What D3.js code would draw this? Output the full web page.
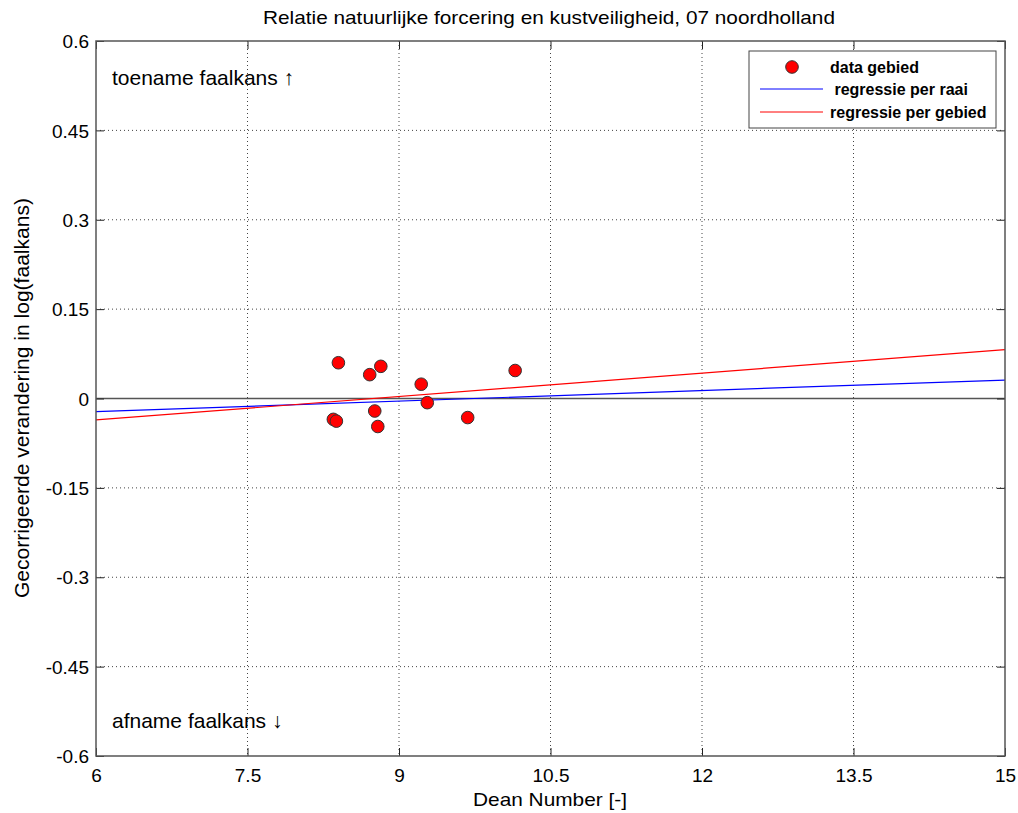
<!DOCTYPE html>
<html><head><meta charset="utf-8">
<script src="https://cdn.jsdelivr.net/npm/d3@7"></script>
<style>body{margin:0;background:#fff;} text{font-family:Arial,"Liberation Sans",sans-serif;}</style>
</head><body>
<svg id="c" width="1018" height="813"></svg>
<script>
const deanNumber = [8.40, 8.71, 8.82, 9.22, 10.15, 8.35, 8.38, 8.76, 8.79, 9.28, 9.68];
const logChange  = [0.060, 0.040, 0.054, 0.024, 0.047, -0.035, -0.038, -0.021, -0.047, -0.007, -0.032];
const regrRaai   = [[6, -0.022], [15, 0.031]];
const regrGebied = [[6, -0.036], [15, 0.082]];
const xTicks = [6, 7.5, 9, 10.5, 12, 13.5, 15];
const yTicks = [-0.6, -0.45, -0.3, -0.15, 0, 0.15, 0.3, 0.45, 0.6];
const legendLabels = ["data gebied", " regressie per raai", "regressie per gebied"];

const svg = d3.select("#c");
const L = 96, R = 1005, T = 41, B = 756;
const x = d3.scaleLinear().domain([6, 15]).range([L, R]);
const y = d3.scaleLinear().domain([-0.6, 0.6]).range([B, T]);

// grid
const g = svg.append("g");
g.selectAll(".gx").data(xTicks.slice(1, -1)).join("line")
  .attr("x1", d => x(d)).attr("x2", d => x(d)).attr("y1", T).attr("y2", B)
  .attr("stroke", "#444").attr("stroke-width", 1).attr("stroke-dasharray", "1,3");
g.selectAll(".gy").data(yTicks.slice(1, -1)).join("line")
  .attr("y1", d => y(d)).attr("y2", d => y(d)).attr("x1", L).attr("x2", R)
  .attr("stroke", "#444").attr("stroke-width", 1).attr("stroke-dasharray", "1,3");

// zero line
svg.append("line").attr("x1", L).attr("x2", R).attr("y1", y(0)).attr("y2", y(0))
  .attr("stroke", "#555").attr("stroke-width", 1.5);

// regression lines
const line = d3.line().x(d => x(d[0])).y(d => y(d[1]));
svg.append("path").attr("d", line(regrRaai)).attr("fill", "none").attr("stroke", "#0000ff").attr("stroke-width", 1.2);
svg.append("path").attr("d", line(regrGebied)).attr("fill", "none").attr("stroke", "#ff0000").attr("stroke-width", 1.2);

// points
svg.selectAll(".pt").data(deanNumber.map((d, i) => [d, logChange[i]])).join("circle")
  .attr("cx", d => x(d[0])).attr("cy", d => y(d[1])).attr("r", 6.3)
  .attr("fill", "#ff0000").attr("stroke", "#333").attr("stroke-width", 1);

// axes
const ax = svg.append("g").attr("transform", `translate(0,${B})`)
  .call(d3.axisBottom(x).tickValues(xTicks).tickFormat(d => d).tickSizeInner(-8).tickSizeOuter(0));
const ay = svg.append("g").attr("transform", `translate(${L},0)`)
  .call(d3.axisLeft(y).tickValues(yTicks).tickFormat(d => d).tickSizeInner(-8).tickSizeOuter(0).tickPadding(7));
const axT = svg.append("g").attr("transform", `translate(0,${T})`)
  .call(d3.axisTop(x).tickValues(xTicks).tickFormat("").tickSizeInner(-8).tickSizeOuter(0));
const ayR = svg.append("g").attr("transform", `translate(${R},0)`)
  .call(d3.axisRight(y).tickValues(yTicks).tickFormat("").tickSizeInner(-8).tickSizeOuter(0));
[ax, ay, axT, ayR].forEach(a => {
  a.select(".domain").remove();
  a.selectAll("line").attr("stroke", "#222");
  a.selectAll("text").attr("fill", "#000").style("font-family", "Arial, 'Liberation Sans', sans-serif");
});
ax.selectAll("text").attr("font-size", 19).attr("y", 26).attr("dy", 0);
ay.selectAll("text").attr("font-size", 19).attr("dy", "0.35em");

svg.append("rect").attr("x", L).attr("y", T).attr("width", R - L).attr("height", B - T)
  .attr("fill", "none").attr("stroke", "#555").attr("stroke-width", 1.5);

// titles
svg.append("text").attr("x", 549).attr("y", 24).attr("text-anchor", "middle")
  .attr("font-size", 19).attr("textLength", 572).attr("lengthAdjust", "spacingAndGlyphs")
  .text("Relatie natuurlijke forcering en kustveiligheid, 07 noordholland");
svg.append("text").attr("x", 550).attr("y", 806).attr("text-anchor", "middle")
  .attr("font-size", 19).attr("textLength", 154).attr("lengthAdjust", "spacingAndGlyphs")
  .text("Dean Number [-]");
svg.append("text").attr("transform", "translate(29,398) rotate(-90)").attr("text-anchor", "middle")
  .attr("font-size", 21).attr("textLength", 400).attr("lengthAdjust", "spacingAndGlyphs")
  .text("Gecorrigeerde verandering in log(faalkans)");

// annotations
svg.append("text").attr("x", 112).attr("y", 85).attr("font-size", 21).text("toename faalkans \u2191");
svg.append("text").attr("x", 112).attr("y", 728).attr("font-size", 21).text("afname faalkans \u2193");

// legend
const lg = svg.append("g");
lg.append("rect").attr("x", 749).attr("y", 51).attr("width", 247).attr("height", 77)
  .attr("fill", "#fff").attr("stroke", "#444").attr("stroke-width", 1);
lg.append("circle").attr("cx", 792).attr("cy", 67).attr("r", 6.3).attr("fill", "#ff0000").attr("stroke", "#333");
lg.append("line").attr("x1", 760).attr("x2", 823).attr("y1", 89).attr("y2", 89).attr("stroke", "#0000ff");
lg.append("line").attr("x1", 760).attr("x2", 823).attr("y1", 112).attr("y2", 112).attr("stroke", "#ff0000");
const ly = [73, 95, 118];
lg.selectAll(".lt").data(legendLabels).join("text")
  .attr("x", 830).attr("y", (d, i) => ly[i]).attr("font-size", 16).attr("font-weight", "bold")
  .attr("xml:space", "preserve").style("white-space", "pre")
  .text(d => d);
</script>
</body></html>
